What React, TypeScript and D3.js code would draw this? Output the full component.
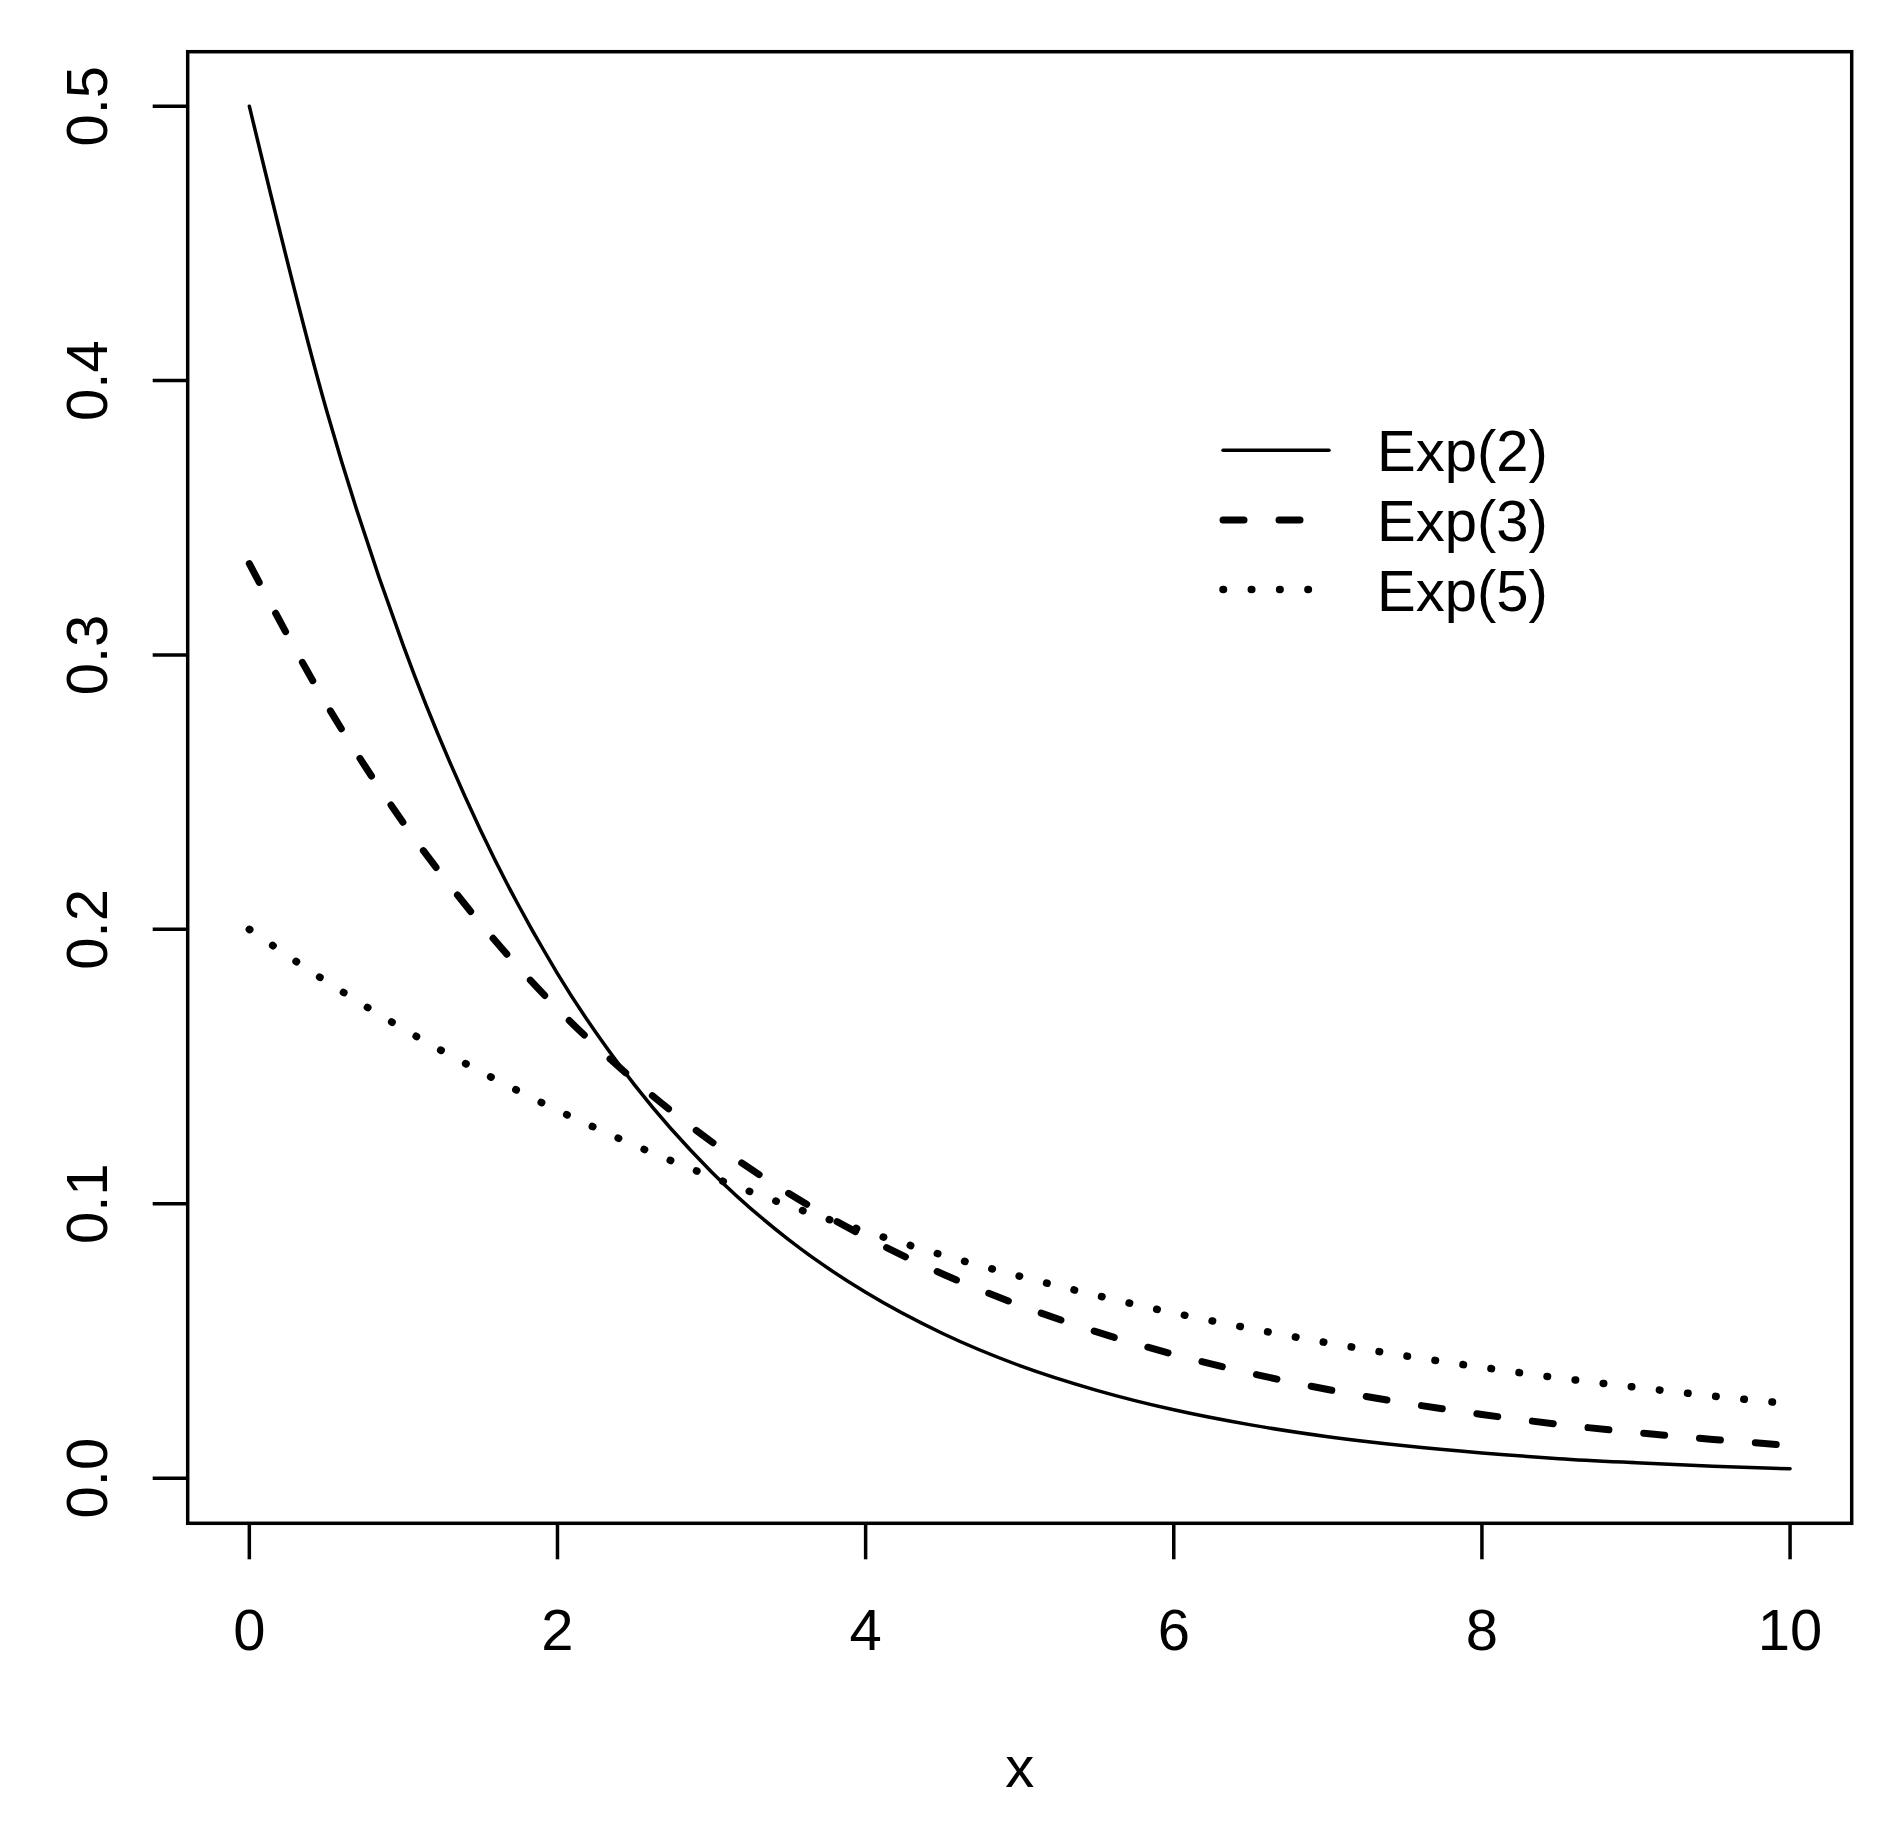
import React from "react";
import * as d3 from "d3";

const xs = [0, 0.5, 1, 1.5, 2, 2.5, 3, 3.5, 4, 4.5, 5, 5.5, 6, 6.5, 7, 7.5, 8, 8.5, 9, 9.5, 10];
const exp2 = [0.5, 0.3894, 0.3033, 0.2362, 0.1839, 0.1433, 0.1116, 0.0869, 0.0677, 0.0527, 0.041, 0.032, 0.0249, 0.0194, 0.0151, 0.0118, 0.0092, 0.0071, 0.0056, 0.0043, 0.0034];
const exp3 = [0.3333, 0.2821, 0.2388, 0.2022, 0.1711, 0.1449, 0.1226, 0.1038, 0.0879, 0.0744, 0.063, 0.0533, 0.0451, 0.0382, 0.0323, 0.0274, 0.0232, 0.0196, 0.0166, 0.0141, 0.0119];
const exp5 = [0.2, 0.181, 0.1637, 0.1482, 0.1341, 0.1213, 0.1098, 0.0993, 0.0899, 0.0813, 0.0736, 0.0666, 0.0602, 0.0545, 0.0493, 0.0446, 0.0404, 0.0365, 0.0331, 0.0299, 0.0271];
const seriesNames = ["Exp(2)", "Exp(3)", "Exp(5)"];
const xTicks = [0, 2, 4, 6, 8, 10];
const yTicks = [0, 0.1, 0.2, 0.3, 0.4, 0.5];

const W = 1898, H = 1824;
const L = 187.7, R = 1851.7, T = 51.7, B = 1523.3;
const FONT = "'Liberation Sans', Arial, Helvetica, sans-serif";
const FS = 58;

export default function App() {
  const xPad = (10 - 0) * 0.04;
  const x = d3.scaleLinear().domain([0 - xPad, 10 + xPad]).range([L, R]);
  const [ymin, ymax] = d3.extent(exp2) as [number, number];
  const yPad = (ymax - ymin) * 0.04;
  const y = d3.scaleLinear().domain([ymin - yPad, ymax + yPad]).range([B, T]);

  const line = (vals: number[]) =>
    d3.line<number>().x((_, i) => x(xs[i])).y((d) => y(d)).curve(d3.curveMonotoneX)(vals) || "";

  const styles = [
    { w: 3.5, dash: undefined as string | undefined },
    { w: 7, dash: "21 35" },
    { w: 7.5, dash: "0.5 27.8" },
  ];
  const data = [exp2, exp3, exp5];

  const legX1 = 1223, legX2 = 1329, legTextX = 1377;
  const legY = [450.3, 520, 589.5];

  return (
    <svg width={W} height={H} style={{ position: "absolute", left: 0, top: 0, background: "#fff" }} fontFamily={FONT}>
      <rect x={0} y={0} width={W} height={H} fill="#fff" />
      {data.map((vals, i) => (
        <path key={i} d={line(vals)} fill="none" stroke="#000" strokeWidth={styles[i].w}
          strokeDasharray={styles[i].dash} strokeLinecap="round" strokeLinejoin="round" />
      ))}
      <rect x={L} y={T} width={R - L} height={B - T} fill="none" stroke="#000" strokeWidth={3.5} />
      {xTicks.map((t) => (
        <g key={t}>
          <line x1={x(t)} x2={x(t)} y1={B} y2={B + 36} stroke="#000" strokeWidth={3.5} />
          <text x={x(t)} y={1650} fontSize={FS} textAnchor="middle">{t}</text>
        </g>
      ))}
      {yTicks.map((t) => (
        <g key={t}>
          <line x1={L - 35} x2={L} y1={y(t)} y2={y(t)} stroke="#000" strokeWidth={3.5} />
          <text transform={`translate(106.7,${y(t)}) rotate(-90)`} fontSize={FS} textAnchor="middle">{t.toFixed(1)}</text>
        </g>
      ))}
      <text x={(L + R) / 2} y={1787} fontSize={FS} textAnchor="middle">x</text>
      {seriesNames.map((n, i) => (
        <g key={n}>
          <line x1={legX1} x2={legX2} y1={legY[i]} y2={legY[i]} stroke="#000" strokeWidth={styles[i].w}
            strokeDasharray={styles[i].dash} strokeLinecap="round" />
          <text x={legTextX} y={legY[i] + 21} fontSize={FS}>{n}</text>
        </g>
      ))}
    </svg>
  );
}
